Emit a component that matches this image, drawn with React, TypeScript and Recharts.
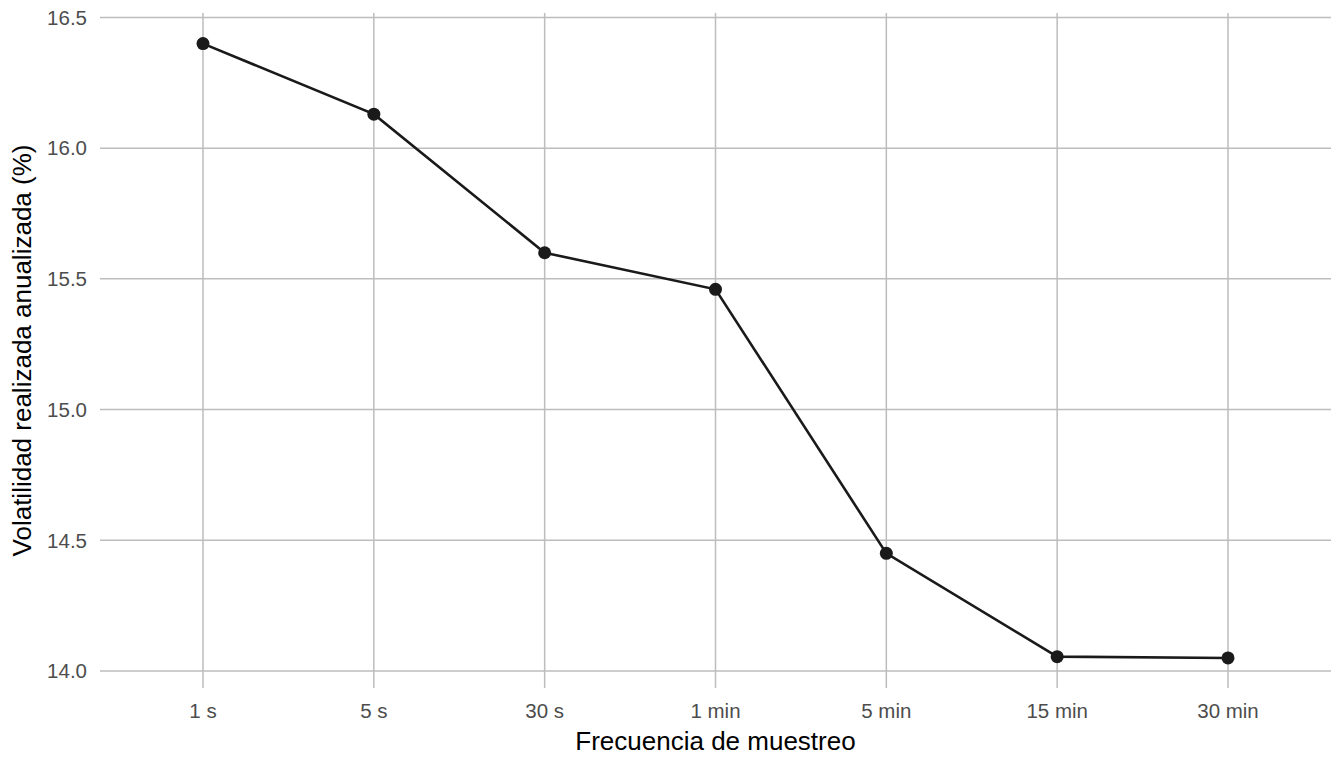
import { LineChart, Line, XAxis, YAxis, CartesianGrid } from "recharts";

const frequencies = ["1 s", "5 s", "30 s", "1 min", "5 min", "15 min", "30 min"];
const volatility = [16.4, 16.13, 15.6, 15.46, 14.45, 14.055, 14.05];
const yTicks = [14.0, 14.5, 15.0, 15.5, 16.0, 16.5];

const data = frequencies.map((f, i) => ({ freq: f, vol: volatility[i] }));

const INK = "#1a1a1a";
const GRID = "#bdbdbd";
const TICK = "#4d4d4d";

export default function App() {
  return (
    <div
      style={{
        position: "fixed",
        left: 0,
        top: 0,
        width: 1344,
        height: 768,
        background: "#fff",
        fontFamily: "'Liberation Sans', Arial, sans-serif",
      }}
    >
      <LineChart width={1344} height={768} data={data} margin={{ top: 13, right: 13, bottom: 0, left: 0 }}>
        {/* syncWithTicks keeps the grid on the ticks only, no border lines */}
        <CartesianGrid stroke={GRID} strokeWidth={1.5} syncWithTicks />
        <XAxis
          dataKey="freq"
          height={80}
          padding={{ left: 103, right: 103 }}
          axisLine={false}
          tickLine={false}
          tickSize={0}
          tickMargin={15}
          tick={{ fontSize: 20.5, fill: TICK }}
          interval={0}
          label={{ value: "Frecuencia de muestreo", position: "insideBottom", offset: 18, fontSize: 26, fill: "#000" }}
        />
        <YAxis
          width={100}
          type="number"
          domain={[13.935, 16.517]}
          ticks={yTicks}
          allowDataOverflow
          axisLine={false}
          tickLine={false}
          tickSize={0}
          tickMargin={13}
          tick={{ fontSize: 20.5, fill: TICK }}
          tickFormatter={(v) => Number(v).toFixed(1)}
          label={{
            value: "Volatilidad realizada anualizada (%)",
            angle: -90,
            position: "insideLeft",
            offset: 22,
            fontSize: 26,
            fill: "#000",
            style: { textAnchor: "middle" },
          }}
        />
        <Line
          dataKey="vol"
          stroke={INK}
          strokeWidth={2.6}
          dot={{ r: 6.5, fill: INK, stroke: "none" }}
          activeDot={false}
          isAnimationActive={false}
        />
      </LineChart>
    </div>
  );
}
